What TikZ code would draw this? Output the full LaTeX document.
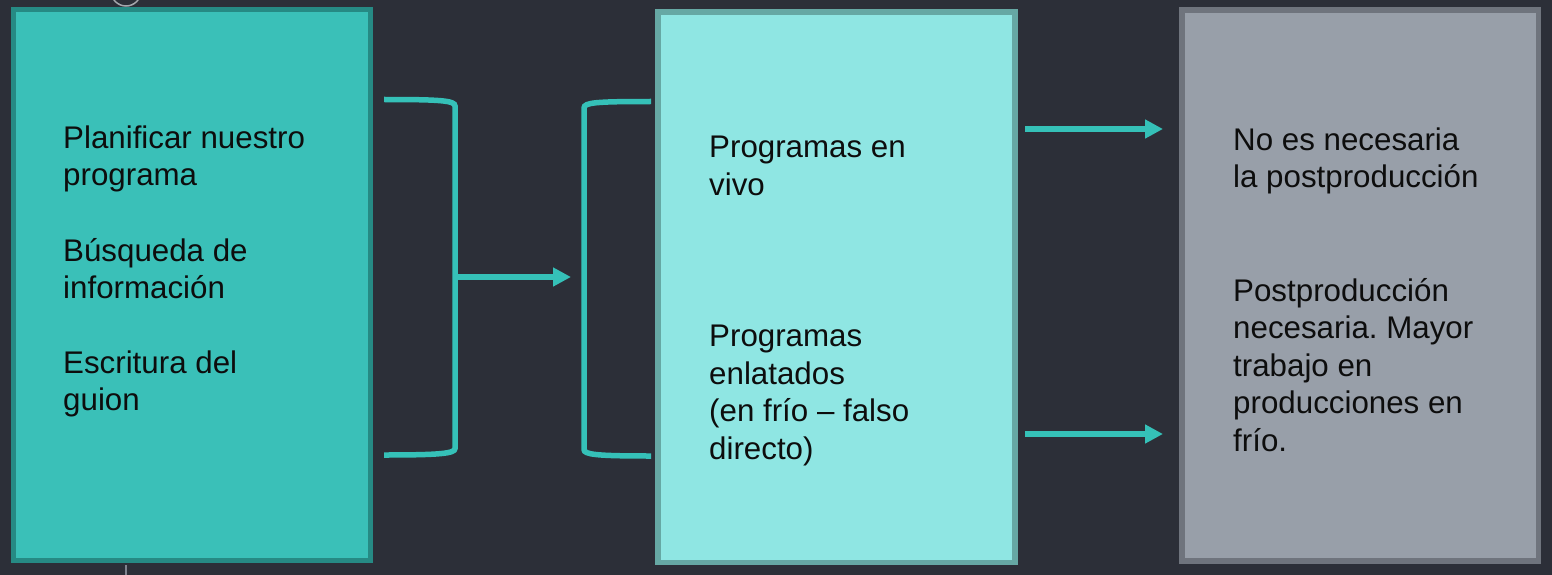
\documentclass[tikz,border=0pt]{standalone}
\usepackage{fontspec}
\setmainfont{Liberation Sans}
\usetikzlibrary{arrows.meta}
\definecolor{bg}{HTML}{2C2F38}
\definecolor{tealfill}{HTML}{3AC0B8}
\definecolor{tealedge}{HTML}{268A84}
\definecolor{aquafill}{HTML}{8FE6E3}
\definecolor{aquaedge}{HTML}{66A8A4}
\definecolor{grayfill}{HTML}{989FA9}
\definecolor{grayedge}{HTML}{6F747D}
\definecolor{connteal}{HTML}{35C1B8}
\definecolor{txtcol}{HTML}{0D0D0D}
\definecolor{marklight}{HTML}{A4A7AD}
\definecolor{markdark}{HTML}{80848F}
\frenchspacing
\begin{document}
\begin{tikzpicture}[x=1pt,y=-1pt,
  panel/.style={draw, rectangle, line width=5.5pt, inner sep=0pt},
  para/.style={anchor=base west, align=left, inner sep=0pt,
    font=\fontsize{31.3}{37.5}\selectfont, text=txtcol},
  conn/.style={draw=connteal, line width=5.5pt},
  arr/.style={conn, -{Triangle[length=18pt,width=18pt]}}]
\fill[bg] (0,0) rectangle (1552,575);
\useasboundingbox (0,0) rectangle (1552,575);
% panels
\node[panel, draw=tealedge, fill=tealfill, minimum width=356.75pt, minimum height=550.75pt] (p1) at (192.1,285.1) {};
\node[panel, draw=aquaedge, fill=aquafill, minimum width=357pt, minimum height=550.7pt] (p2) at (836.5,287.35) {};
\node[panel, draw=grayedge, fill=grayfill, minimum width=356.5pt, minimum height=551.25pt] (p3) at (1360,285.4) {};
% texts (anchored at the baseline of their last line)
\node[para] (t11) at (63,185.5) {Planificar nuestro\\programa};
\node[para] (t12) at (63,298.5) {Búsqueda de\\información};
\node[para] (t13) at (63,410.5) {Escritura del\\guion};
\node[para] (t21) at (709,195) {Programas en\\vivo};
\node[para] (t22) at (709,459) {Programas\\enlatados\\(en frío – falso\\directo)};
\node[para] (t31) at (1233,187.5) {No es necesaria\\la postproducción};
\node[para] (t32) at (1233,451) {Postproducción\\necesaria. Mayor\\trabajo en\\producciones en\\frío.};
% brackets
\coordinate (lbtop) at (384,99.5);
\coordinate (lbbot) at (384,455);
\coordinate (lbmid) at (455,277);
\coordinate (rbmid) at (571,277);
\coordinate (rbtop) at (651,101.5);
\coordinate (rbbot) at (651,456);
\draw[conn] (lbtop) .. controls (440,99.5) and (455,100.5) .. (455,106) -- (455,448.5) .. controls (455,453.5) and (440,455) .. (lbbot);
\draw[conn] (rbtop) .. controls (596,101.5) and (584,102.5) .. (584,108) -- (584,449.5) .. controls (584,454.5) and (596,456) .. (rbbot);
\draw[arr] (lbmid) -- (rbmid);
% right arrows
\coordinate (a1s) at (1025,129);
\coordinate (a1e) at (1163,129);
\coordinate (a2s) at (1025,434);
\coordinate (a2e) at (1163,434);
\draw[arr] (a1s) -- (a1e);
\draw[arr] (a2s) -- (a2e);
% small marks
\draw[marklight, line width=1.5pt] (126,-9) circle[radius=15];
\draw[markdark, line width=2pt] (126,565) -- (126,575);
\end{tikzpicture}
\end{document}
